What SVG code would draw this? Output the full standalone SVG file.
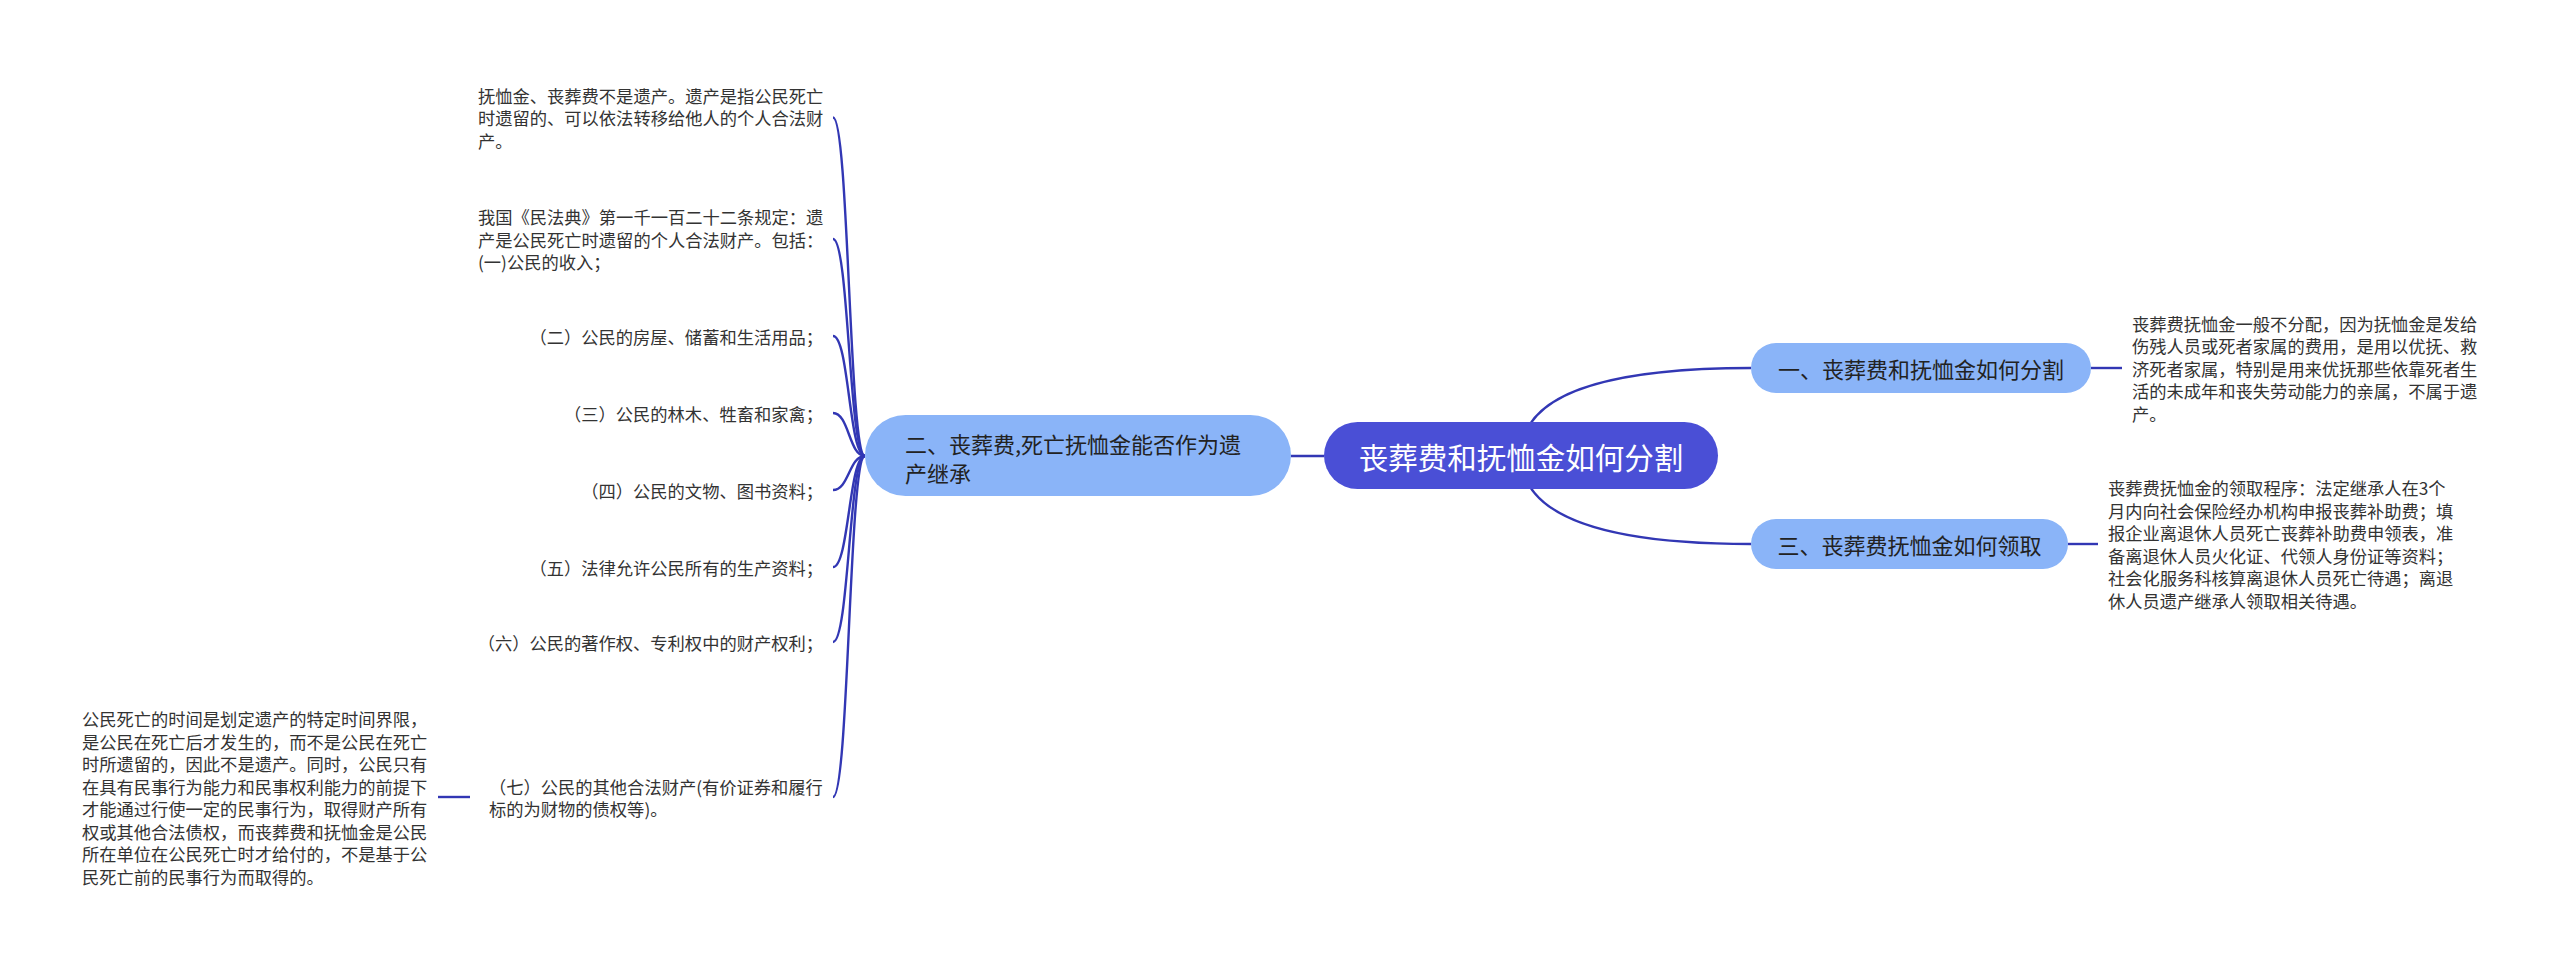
<svg xmlns="http://www.w3.org/2000/svg" width="2560" height="968" viewBox="0 0 2560 968">
<style>
text{font-family:"Noto Sans CJK SC","Noto Sans",sans-serif;dominant-baseline:central}
.t{font-size:17.28px;fill:#333}
.e{text-anchor:end}
.l1{font-size:22px;fill:#222}
.m{text-anchor:middle}
.rt{font-size:29.5px;fill:#fff}
.c{fill:none;stroke:#3237b4;stroke-width:2.4}
.n1{fill:#8ab4f8}
.rn{fill:#4a4fd6}
</style>
<rect width="2560" height="968" fill="#fff"/>
<g id="connectors">
<path class="c" d="M865 456 C849 456 849 117.5 833 117.5"/>
<path class="c" d="M865 456 C849 456 849 239 833 239"/>
<path class="c" d="M865 456 C849 456 849 336 833 336"/>
<path class="c" d="M865 456 C849 456 849 413 833 413"/>
<path class="c" d="M865 456 C849 456 849 490 833 490"/>
<path class="c" d="M865 456 C849 456 849 567 833 567"/>
<path class="c" d="M865 456 C849 456 849 642 833 642"/>
<path class="c" d="M865 456 C849 456 849 797 833 797"/>
<path class="c" d="M470 797 L438 797"/>
<path class="c" d="M1291 456 L1324 456"/>
<path class="c" d="M1521 455 Q1521 368 1751 368"/>
<path class="c" d="M1521 455 Q1521 544 1751 544"/>
<path class="c" d="M2091 368 L2122 368"/>
<path class="c" d="M2068 544 L2098 544"/>
</g>
<g id="root">
<rect class="rn" x="1324" y="422" width="394" height="67" rx="33.5"/>
<text class="rt m" x="1521" y="456">丧葬费和抚恤金如何分割</text>
</g>
<g id="node-2">
<rect class="n1" x="865" y="415" width="426" height="81" rx="40.5"/>
<text class="l1" x="905" y="443">二、丧葬费,死亡抚恤金能否作为遗</text>
<text class="l1" x="905" y="472">产继承</text>
</g>
<g id="node-1">
<rect class="n1" x="1751" y="343" width="340" height="50" rx="25"/>
<text class="l1 m" x="1921" y="368">一、丧葬费和抚恤金如何分割</text>
</g>
<g id="node-3">
<rect class="n1" x="1751" y="519" width="317" height="50" rx="25"/>
<text class="l1 m" x="1909.5" y="544">三、丧葬费抚恤金如何领取</text>
</g>
<g id="node-1-text">
<text class="t" x="2132" y="323">丧葬费抚恤金一般不分配，因为抚恤金是发给</text>
<text class="t" x="2132" y="345.5">伤残人员或死者家属的费用，是用以优抚、救</text>
<text class="t" x="2132" y="368">济死者家属，特别是用来优抚那些依靠死者生</text>
<text class="t" x="2132" y="390.5">活的未成年和丧失劳动能力的亲属，不属于遗</text>
<text class="t" x="2132" y="413">产。</text>
</g>
<g id="node-3-text">
<text class="t" x="2108" y="487.75">丧葬费抚恤金的领取程序：法定继承人在3个</text>
<text class="t" x="2108" y="510.25">月内向社会保险经办机构申报丧葬补助费；填</text>
<text class="t" x="2108" y="532.75">报企业离退休人员死亡丧葬补助费申领表，准</text>
<text class="t" x="2108" y="555.25">备离退休人员火化证、代领人身份证等资料；</text>
<text class="t" x="2108" y="577.75">社会化服务科核算离退休人员死亡待遇；离退</text>
<text class="t" x="2108" y="600.25">休人员遗产继承人领取相关待遇。</text>
</g>
<g id="item-a">
<text class="t" x="478" y="95">抚恤金、丧葬费不是遗产。遗产是指公民死亡</text>
<text class="t" x="478" y="117.5">时遗留的、可以依法转移给他人的个人合法财</text>
<text class="t" x="478" y="140">产。</text>
</g>
<g id="item-b">
<text class="t" x="478" y="216.5">我国《民法典》第一千一百二十二条规定：遗</text>
<text class="t" x="478" y="239">产是公民死亡时遗留的个人合法财产。包括：</text>
<text class="t" x="478" y="261.5">(一)公民的收入；</text>
</g>
<g id="item-c"><text class="t e" x="823" y="336">（二）公民的房屋、储蓄和生活用品；</text></g>
<g id="item-d"><text class="t e" x="823" y="413">（三）公民的林木、牲畜和家禽；</text></g>
<g id="item-e"><text class="t e" x="823" y="490">（四）公民的文物、图书资料；</text></g>
<g id="item-f"><text class="t e" x="823" y="567">（五）法律允许公民所有的生产资料；</text></g>
<g id="item-g"><text class="t e" x="823" y="642">（六）公民的著作权、专利权中的财产权利；</text></g>
<g id="item-h">
<text class="t" x="489" y="786">（七）公民的其他合法财产(有价证券和履行</text>
<text class="t" x="489" y="808.5">标的为财物的债权等)。</text>
</g>
<g id="item-h-note">
<text class="t" x="82" y="718.75">公民死亡的时间是划定遗产的特定时间界限，</text>
<text class="t" x="82" y="741.25">是公民在死亡后才发生的，而不是公民在死亡</text>
<text class="t" x="82" y="763.75">时所遗留的，因此不是遗产。同时，公民只有</text>
<text class="t" x="82" y="786.25">在具有民事行为能力和民事权利能力的前提下</text>
<text class="t" x="82" y="808.75">才能通过行使一定的民事行为，取得财产所有</text>
<text class="t" x="82" y="831.25">权或其他合法债权，而丧葬费和抚恤金是公民</text>
<text class="t" x="82" y="853.75">所在单位在公民死亡时才给付的，不是基于公</text>
<text class="t" x="82" y="876.25">民死亡前的民事行为而取得的。</text>
</g>
</svg>
